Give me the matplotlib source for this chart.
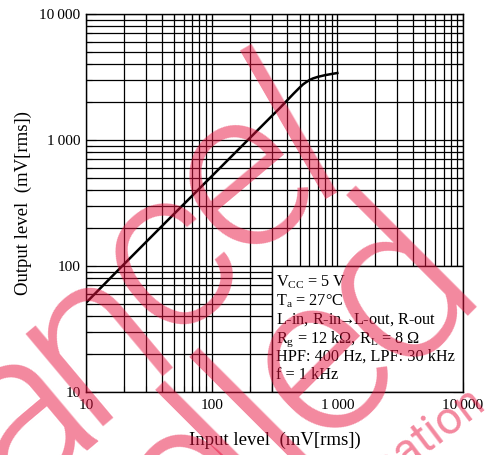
import numpy as np
import matplotlib
matplotlib.use("Agg")
import matplotlib.pyplot as plt
from matplotlib.patches import Rectangle
from matplotlib.ticker import FuncFormatter, LogLocator, NullFormatter

plt.rcParams['font.family'] = ['Liberation Serif', 'DejaVu Serif']
plt.rcParams['mathtext.fontset'] = 'custom'
plt.rcParams['mathtext.rm'] = 'Liberation Serif'

# input level vs output level (mV rms)
inp = [10, 20, 50, 100, 200, 300, 350, 400, 450, 500, 533, 560, 600, 640, 700, 800, 900, 1000]
out = [51, 103, 258, 515, 1030, 1545, 1800, 2070, 2340, 2600, 2760, 2860, 2990, 3080, 3170, 3270, 3340, 3400]

tick_vals = [10, 100, 1000, 10000]
tick_text = ['10', '100', '1\u2009000', '10\u2009000']

cond_lines = [r'V$_{\mathrm{CC}}$ = 5 V',
              r'T$_{\mathrm{a}}$ = 27°C',
              r'L-in, R-in$\!\!\rightarrow\!\!$L-out, R-out',
              r'R$_{\mathrm{g}}$ = 12 kΩ, R$_{\mathrm{L}}$ = 8 Ω',
              'HPF: 400 Hz, LPF: 30 kHz',
              'f = 1 kHz']
cond_y = [0.2804, 0.2302, 0.1799, 0.1323, 0.0820, 0.0331]

# watermark letters: (char, x px, y px from top, rotation) of baseline centre
wm_letters = [('a', 60, 464, 40), ('n', 134, 386, 40), ('c', 208, 306, 40),
              ('e', 282, 226, 40), ('l', 329, 186, 30),
              ('e', 232, 531, 45), ('l', 276, 493, 45), ('l', 310, 460, 45),
              ('e', 364, 407, 45), ('d', 441, 331, 45)]

W, H = 492, 455
fig = plt.figure(figsize=(W / 100, H / 100), dpi=100)
ax = fig.add_axes([0.1748, 0.1385, 0.7663, 0.8308])
ax.set_xscale('log')
ax.set_yscale('log')
ax.set_xlim(10, 10000)
ax.set_ylim(10, 10000)

# grid from the locator positions, drawn below the condition box
loc = LogLocator(base=10, subs=np.arange(1, 10))
gx = [v for v in loc.tick_values(10, 10000) if 10 <= v <= 10000]
ax.vlines(gx, 0, 1, transform=ax.get_xaxis_transform(), color='black', lw=0.9, zorder=1)
ax.hlines(gx, 0, 1, transform=ax.get_yaxis_transform(), color='black', lw=0.9, zorder=1)

# condition box (white, covers the grid)
ax.add_patch(Rectangle((300, 10), 10000 - 300, 100 - 10, facecolor='white',
                       edgecolor='black', lw=1.0, zorder=2))
ax.plot(inp, out, color='black', lw=1.8, zorder=3)

for s, y in zip(cond_lines, cond_y):
    ax.text(0.505, y, s, transform=ax.transAxes, fontsize=11.7,
            va='baseline', ha='left', zorder=4)

fmt = FuncFormatter(lambda v, p: tick_text[tick_vals.index(round(v))] if round(v) in tick_vals else '')
for axis in (ax.xaxis, ax.yaxis):
    axis.set_major_locator(LogLocator(base=10))
    axis.set_major_formatter(fmt)
    axis.set_minor_locator(LogLocator(base=10, subs=np.arange(2, 10)))
    axis.set_minor_formatter(NullFormatter())
ax.tick_params(which='both', direction='in', top=True, right=True, width=0.8)
ax.tick_params(which='major', length=7, labelsize=11)
ax.tick_params(which='minor', length=4)
ax.tick_params(axis='x', pad=5)
ax.tick_params(axis='y', pad=4)
for s in ax.spines.values():
    s.set_linewidth(1.0)

ax.set_xlabel('Input level  (mV[rms])', fontsize=13.5, labelpad=14)
ax.set_ylabel('Output level  (mV[rms])', fontsize=13.5, labelpad=5)

# watermark
wm = dict(family=['Roboto', 'DejaVu Sans'], color='#e8123f', alpha=0.5,
          rotation_mode='anchor', va='baseline', zorder=10)
for ch, x, y, r in wm_letters:
    fig.text(x / W, 1 - y / H, ch, fontsize=165, fontweight=300, rotation=r, ha='center', **wm)
fig.text(0.992, 0.108, 'information', fontsize=33, rotation=37, ha='right', **wm)

fig.savefig('out.png', dpi=100)
